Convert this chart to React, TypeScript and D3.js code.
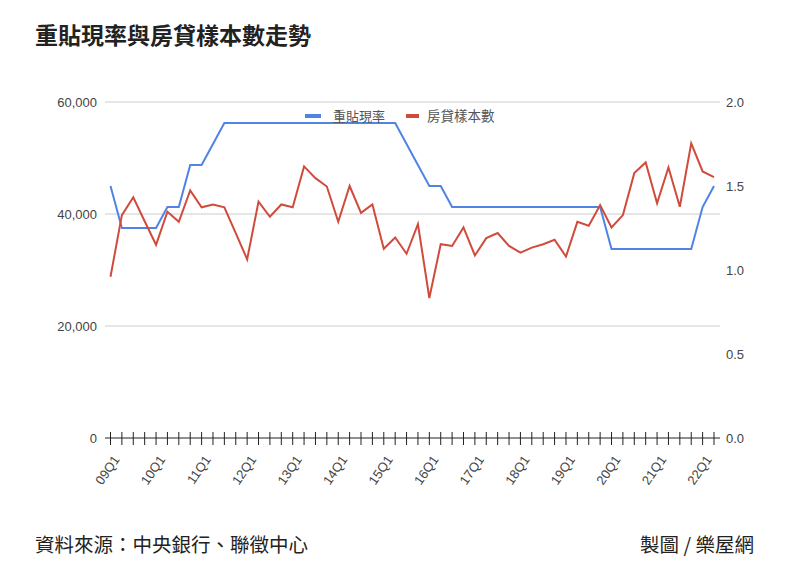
import React from "react";
import * as d3 from "d3";

const quarters: string[] = (() => {
  const out: string[] = [];
  for (let y = 9; y <= 22; y++) {
    for (let q = 1; q <= 4; q++) {
      if (y === 22 && q > 2) break;
      out.push(`${String(y).padStart(2, "0")}Q${q}`);
    }
  }
  return out;
})();

const discountRate: number[] = [
  1.5, 1.25, 1.25, 1.25, 1.25, 1.375, 1.375, 1.625, 1.625, 1.75,
  1.875, 1.875, 1.875, 1.875, 1.875, 1.875, 1.875, 1.875, 1.875, 1.875,
  1.875, 1.875, 1.875, 1.875, 1.875, 1.875, 1.75, 1.625, 1.5, 1.5,
  1.375, 1.375, 1.375, 1.375, 1.375, 1.375, 1.375, 1.375, 1.375, 1.375,
  1.375, 1.375, 1.375, 1.375, 1.125, 1.125, 1.125, 1.125, 1.125, 1.125,
  1.125, 1.125, 1.375, 1.5,
];

const mortgageSamples: number[] = [
  28800, 39800, 43000, 38700, 34500, 40400, 38600, 44200, 41200, 41700,
  41200, 36600, 31900, 42200, 39500, 41700, 41200, 48500, 46400, 44900,
  38600, 45000, 40200, 41700, 33800, 35800, 32900, 38200, 25000, 34600,
  34300, 37600, 32600, 35700, 36600, 34300, 33100, 34000, 34600, 35400,
  32400, 38600, 37900, 41600, 37600, 39800, 47300, 49200, 41900, 48300,
  41300, 52600, 47600, 46600,
];

const leftTicks: number[] = [0, 20000, 40000, 60000];
const rightTicks: number[] = [0, 0.5, 1.0, 1.5, 2.0];
const seriesNames: string[] = ["重貼現率", "房貸樣本數"];
const seriesColors: string[] = ["#4f84e6", "#d14b3c"];

const TITLE = "重貼現率與房貸樣本數走勢";
const SOURCE = "資料來源：中央銀行、聯徵中心";
const CREDIT = "製圖 / 樂屋網";

const CJK = '"Noto Sans CJK TC", "Noto Sans", sans-serif';
const LAT = '"Liberation Sans", Arial, sans-serif';

export default function App() {
  const W = 800;
  const H = 568;
  const plotL = 105;
  const plotR = 720;
  const top = 102;
  const bottom = 438;

  const x = d3.scalePoint<string>().domain(quarters).range([110.5, 714]);
  const yL = d3.scaleLinear().domain([0, 60000]).range([bottom, top]);
  const yR = d3.scaleLinear().domain([0, 2]).range([bottom, top]);

  const rateLine = d3
    .line<number>()
    .x((_, i) => x(quarters[i]) as number)
    .y((d) => yR(d));
  const sampleLine = d3
    .line<number>()
    .x((_, i) => x(quarters[i]) as number)
    .y((d) => yL(d));

  const fmt = d3.format(",");

  return (
    <svg
      width={W}
      height={H}
      style={{ position: "absolute", left: 0, top: 0, background: "#fff" }}
    >
      <rect width={W} height={H} fill="#fff" />
      <text x={35} y={44} fontFamily={CJK} fontWeight={700} fontSize={23} fill="#222">
        {TITLE}
      </text>

      {leftTicks.map((t) => (
        <g key={"gl" + t}>
          {t !== 0 && (
            <line x1={plotL} x2={plotR} y1={yL(t)} y2={yL(t)} stroke="#cccccc" strokeWidth={1} />
          )}
          <text
            x={97}
            y={yL(t)}
            dy="0.35em"
            textAnchor="end"
            fontFamily={LAT}
            fontSize={13}
            fill="#444"
          >
            {fmt(t)}
          </text>
        </g>
      ))}
      {rightTicks.map((t) => (
        <text
          key={"r" + t}
          x={726}
          y={yR(t)}
          dy="0.35em"
          fontFamily={LAT}
          fontSize={13}
          fill="#444"
        >
          {t.toFixed(1)}
        </text>
      ))}

      <path d={rateLine(discountRate) || ""} fill="none" stroke={seriesColors[0]} strokeWidth={2} />
      <path d={sampleLine(mortgageSamples) || ""} fill="none" stroke={seriesColors[1]} strokeWidth={2} />

      <line x1={plotL} x2={plotR} y1={bottom} y2={bottom} stroke="#222" strokeWidth={1.2} />
      {quarters.map((q) => (
        <line
          key={"t" + q}
          x1={x(q)}
          x2={x(q)}
          y1={bottom - 6}
          y2={bottom + 7}
          stroke="#222"
          strokeWidth={1}
        />
      ))}
      {quarters.map((q, i) =>
        i % 4 === 0 ? (
          <text
            key={"xl" + q}
            transform={`translate(${(x(q) as number) + 6},${bottom + 19}) rotate(-55)`}
            textAnchor="end"
            dy="0.35em"
            fontFamily={LAT}
            fontSize={13}
            fill="#444"
          >
            {q}
          </text>
        ) : null
      )}

      {/* legend */}
      <g>
        <rect x={305} y={114} width={16} height={4} fill={seriesColors[0]} />
        <text x={333} y={116} dy="0.35em" fontFamily={CJK} fontSize={13} fill="#555">
          {seriesNames[0]}
        </text>
        <rect x={406} y={114} width={13} height={4} fill={seriesColors[1]} />
        <text x={427} y={116} dy="0.35em" fontFamily={CJK} fontSize={13.5} fill="#555">
          {seriesNames[1]}
        </text>
      </g>

      <text x={35} y={552} fontFamily={CJK} fontSize={19.5} fill="#222">
        {SOURCE}
      </text>
      <text x={754} y={552} textAnchor="end" fontFamily={CJK} fontSize={19.5} fill="#222">
        {CREDIT}
      </text>
    </svg>
  );
}
